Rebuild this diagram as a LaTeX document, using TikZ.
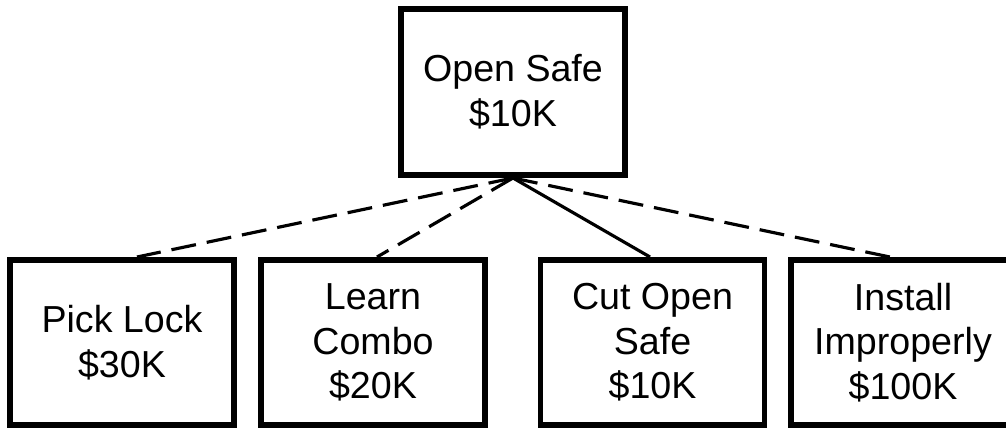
\documentclass[tikz,border=0pt]{standalone}
\usepackage{fontspec}
\setmainfont{Liberation Sans}
\usetikzlibrary{calc}
\tikzset{goal/.style={draw, line width=3.4pt, align=center, inner sep=0pt, minimum width=4.48cm, minimum height=3.3cm, font=\fontsize{21.4}{25.4}\selectfont}}
\tikzset{link/.style={line width=1.8pt}}
\tikzset{maybe/.style={link, dash pattern=on 0.5cm off 0.22cm}}

\begin{document}
\begin{tikzpicture}
  \useasboundingbox (0,0) rectangle (20.12,-8.58);
  % root goal
  \node[goal, minimum height=3.32cm] (safe) at (10.26,-1.84) {Open Safe\\\$10K};
  % ways to reach it
  \node[goal] (pick) at (2.44,-6.85) {Pick Lock\\\$30K};
  \node[goal] (combo) at (7.46,-6.85) {Learn\\Combo\\\$20K};
  \node[goal] (cut) at (13.05,-6.85) {Cut Open\\Safe\\\$10K};
  \node[goal] (install) at (18.06,-6.85) {Install\\Improperly\\\$100K};
  % links
  \draw[maybe] (safe.south) -- ($(pick.north)+(0.3,0)$);
  \draw[maybe] (safe.south) -- ($(combo.north)+(0.08,0)$);
  \draw[link] (safe.south) -- ($(cut.north)+(-0.05,0)$);
  \draw[maybe] (safe.south) -- ($(install.north)+(-0.26,0)$);
\end{tikzpicture}
\end{document}
